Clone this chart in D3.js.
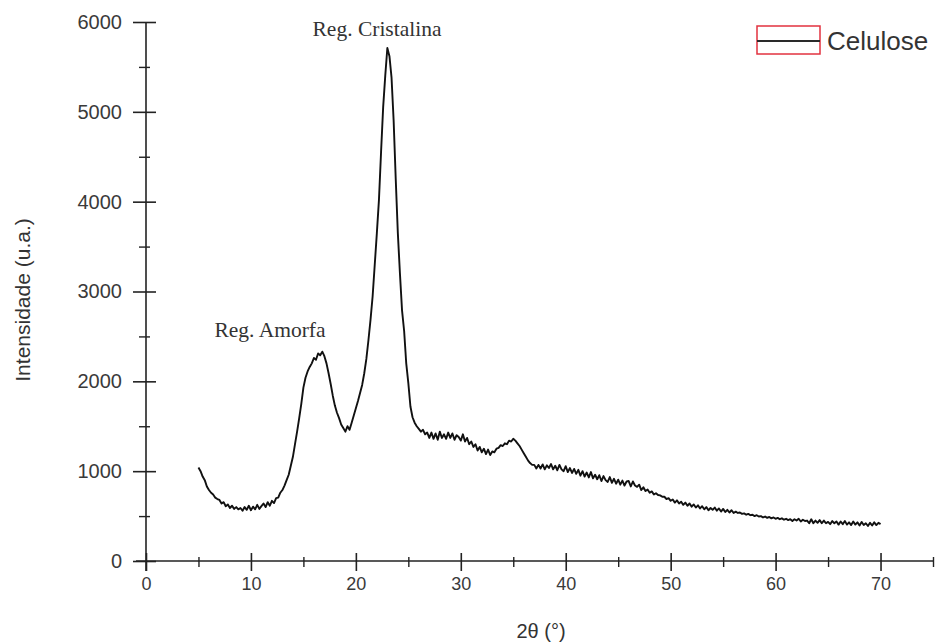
<!DOCTYPE html>
<html>
<head>
<meta charset="utf-8">
<script src="https://cdn.jsdelivr.net/npm/d3@7/dist/d3.min.js"></script>
<style>
  html, body { margin: 0; padding: 0; background: #fff; }
  svg { display: block; }
</style>
</head>
<body>
<svg id="chart" width="936" height="643"></svg>
<script>
// ---- Data ----
const angleStart = 5;      // 2θ of the first sample
const angleStep = 0.2;     // sampling step in 2θ
const intensity = [
  1040,1000,940,900,830,790,760,740,705,690,
  680,640,655,610,630,590,615,580,600,575,
  590,560,600,570,615,565,605,575,625,580,
  610,640,600,655,615,670,645,700,705,760,
  790,840,900,960,1060,1160,1300,1440,1590,1750,
  1930,2040,2110,2160,2200,2260,2240,2310,2290,2330,
  2280,2200,2090,1970,1840,1730,1650,1590,1520,1480,
  1440,1500,1460,1540,1620,1700,1780,1870,1960,2090,
  2250,2460,2690,2950,3300,3650,4020,4550,5050,5400,
  5710,5620,5380,4900,4250,3650,3200,2790,2560,2200,
  1980,1720,1600,1540,1500,1470,1440,1460,1410,1430,
  1370,1430,1360,1420,1350,1440,1370,1410,1360,1430,
  1370,1420,1350,1400,1380,1340,1410,1330,1370,1300,
  1330,1270,1300,1230,1270,1210,1250,1190,1240,1180,
  1220,1210,1250,1260,1290,1280,1310,1300,1340,1330,
  1360,1340,1310,1280,1240,1200,1160,1120,1090,1070,
  1070,1030,1070,1030,1075,1020,1065,1035,1080,1020,
  1060,1010,1070,1020,1000,1055,990,1035,980,1025,
  970,1015,950,1000,940,985,930,990,920,960,
  910,955,890,945,900,880,935,870,915,860,
  905,850,895,840,885,890,830,885,840,825,
  850,790,820,780,795,760,775,740,755,735,
  730,715,715,690,700,670,685,650,675,640,
  660,625,650,615,640,605,630,595,620,585,
  610,575,600,565,590,570,595,560,585,550,
  580,545,570,540,565,535,550,535,540,525,
  530,515,525,510,515,500,510,495,500,485,
  495,480,490,475,485,470,480,465,475,460,
  470,455,465,445,465,450,470,440,460,445,
  450,420,465,420,450,425,455,420,450,420,
  435,410,445,420,440,405,440,410,445,405,
  430,400,440,405,430,395,435,400,420,390,
  425,395,430,400,425,410
];
const xMajorTicks = [0, 10, 20, 30, 40, 50, 60, 70];
const xMinorTicks = [5, 15, 25, 35, 45, 55, 65, 75];
const yMajorTicks = [0, 1000, 2000, 3000, 4000, 5000, 6000];
const yMinorTicks = [500, 1500, 2500, 3500, 4500, 5500];
const seriesName = "Celulose";
const annotations = [
  { text: "Reg. Cristalina", angle: 23.0, value: 6000 },
  { text: "Reg. Amorfa", angle: 17.0, value: 2500 }
];

const points = intensity.map((v, i) => ({ a: angleStart + i * angleStep, v }));

// ---- Layout ----
const svg = d3.select("#chart");
const x = d3.scaleLinear().domain([0, 75]).range([146, 933]);
const y = d3.scaleLinear().domain([0, 6000]).range([561, 22]);
const axisColor = "#222";
const labelColor = "#3a3a3a";

// X axis
const gx = svg.append("g").attr("transform", `translate(0,${y(0)})`);
gx.call(d3.axisBottom(x).tickValues(xMajorTicks).tickFormat(d3.format("d")).tickSizeOuter(0).tickSize(10));
gx.select(".domain").attr("d", `M${x(0) - 10},0H${x(75)}`).attr("stroke", axisColor).attr("stroke-width", 1.6);
gx.selectAll(".tick line").attr("y1", -8).attr("y2", 10).attr("stroke", axisColor).attr("stroke-width", 1.6);
gx.selectAll(".tick text").attr("y", 16).attr("font-family", "Liberation Sans, Arial, sans-serif")
  .attr("font-size", 18).attr("fill", labelColor);
const gxm = svg.append("g").attr("transform", `translate(0,${y(0)})`);
gxm.call(d3.axisBottom(x).tickValues(xMinorTicks).tickFormat("").tickSizeOuter(0));
gxm.select(".domain").remove();
gxm.selectAll(".tick line").attr("y1", -4).attr("y2", 6).attr("stroke", axisColor).attr("stroke-width", 1.4);

// Y axis
const gy = svg.append("g").attr("transform", `translate(${x(0)},0)`);
gy.call(d3.axisLeft(y).tickValues(yMajorTicks).tickFormat(d3.format("d")).tickSizeOuter(0).tickSize(13));
gy.select(".domain").attr("d", `M0,${y(6000)}V${y(0) + 10}`).attr("stroke", axisColor).attr("stroke-width", 1.6);
gy.selectAll(".tick line").attr("x1", 10).attr("x2", -13).attr("stroke", axisColor).attr("stroke-width", 1.6);
gy.selectAll(".tick text").attr("x", -24).attr("font-family", "Liberation Sans, Arial, sans-serif")
  .attr("font-size", 20).attr("fill", labelColor);
const gym = svg.append("g").attr("transform", `translate(${x(0)},0)`);
gym.call(d3.axisLeft(y).tickValues(yMinorTicks).tickFormat("").tickSizeOuter(0));
gym.select(".domain").remove();
gym.selectAll(".tick line").attr("x1", 4).attr("x2", -7).attr("stroke", axisColor).attr("stroke-width", 1.4);

// Series line
const line = d3.line().x(d => x(d.a)).y(d => y(d.v));
svg.append("path").datum(points)
  .attr("d", line)
  .attr("fill", "none")
  .attr("stroke", "#111")
  .attr("stroke-width", 1.9)
  .attr("stroke-linejoin", "round");

// Annotations
svg.selectAll("text.ann").data(annotations).enter().append("text")
  .attr("class", "ann")
  .attr("x", (d, i) => i === 0 ? 377 : 270)
  .attr("y", (d, i) => i === 0 ? 36 : 337)
  .attr("text-anchor", "middle")
  .attr("font-family", "Liberation Serif, Times New Roman, serif")
  .attr("font-size", 21.5)
  .attr("fill", "#333")
  .text(d => d.text);

// Axis titles
svg.append("text")
  .attr("transform", "translate(30,300) rotate(-90)")
  .attr("text-anchor", "middle")
  .attr("font-family", "Liberation Sans, Arial, sans-serif")
  .attr("font-size", 21)
  .attr("fill", "#333")
  .text("Intensidade (u.a.)");
svg.append("text")
  .attr("x", 541).attr("y", 638)
  .attr("text-anchor", "middle")
  .attr("font-family", "Liberation Sans, Arial, sans-serif")
  .attr("font-size", 20)
  .attr("fill", "#333")
  .text("2θ (°)");

// Legend
const lg = svg.append("g");
lg.append("rect").attr("x", 757).attr("y", 26).attr("width", 63).attr("height", 28)
  .attr("fill", "none").attr("stroke", "#e2323f").attr("stroke-width", 1.5);
lg.append("line").attr("x1", 757).attr("x2", 820).attr("y1", 41).attr("y2", 41)
  .attr("stroke", "#2a2a2a").attr("stroke-width", 2);
lg.append("text").attr("x", 827).attr("y", 50)
  .attr("font-family", "Liberation Sans, Arial, sans-serif")
  .attr("font-size", 26).attr("fill", "#333")
  .text(seriesName);
</script>
</body>
</html>
